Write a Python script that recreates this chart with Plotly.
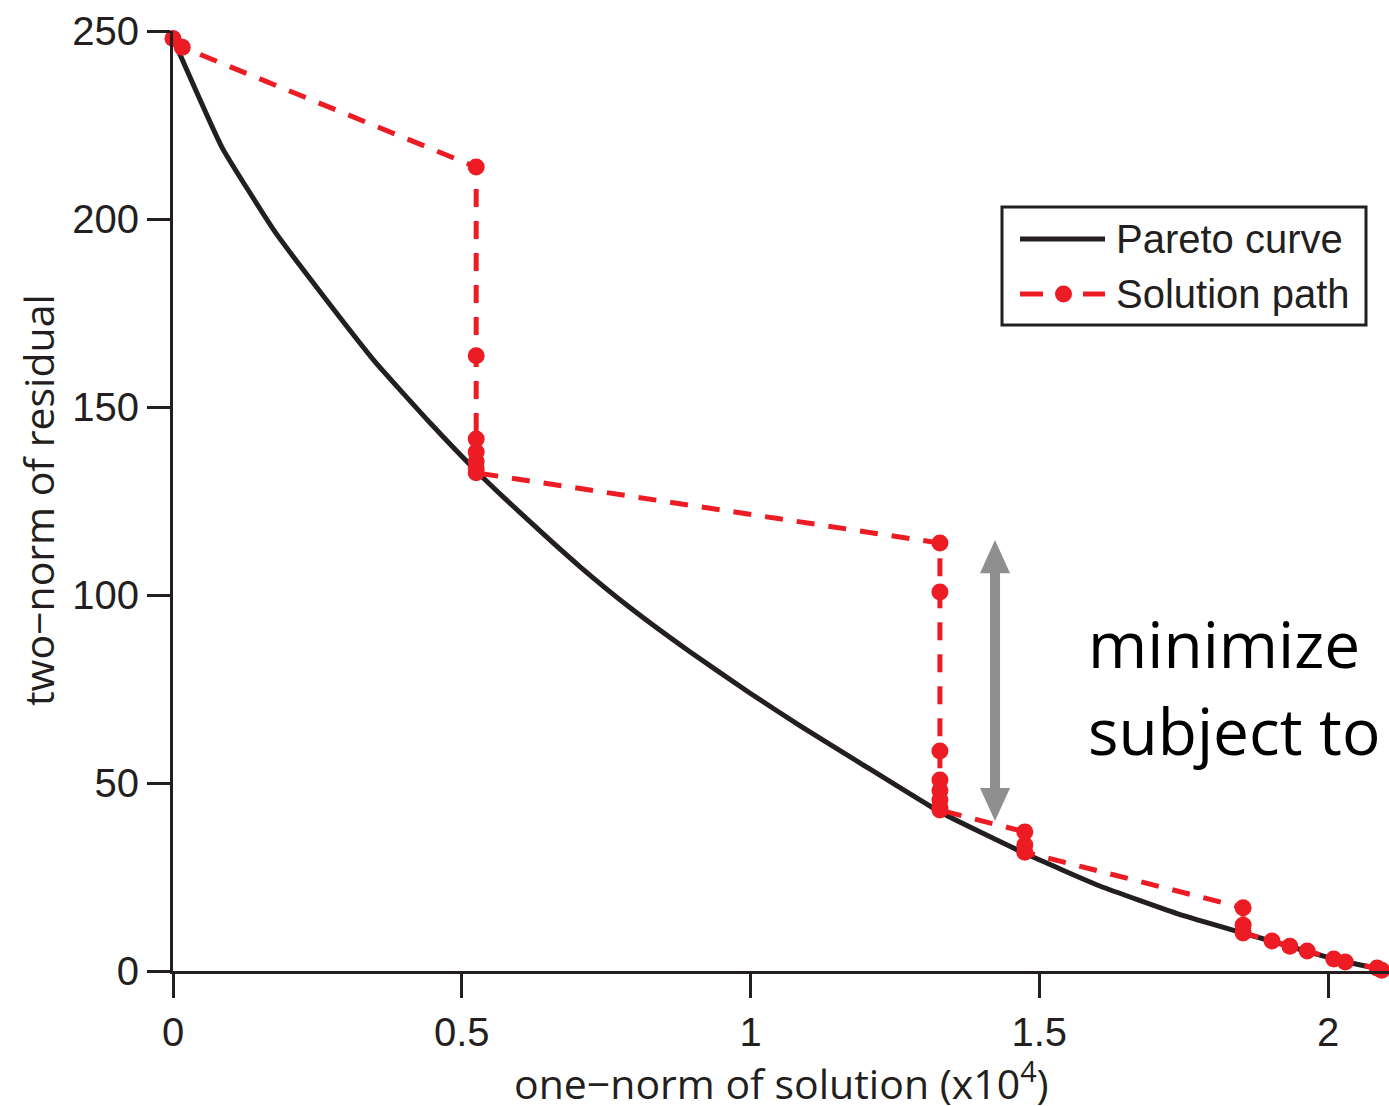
import plotly.graph_objects as go

# Pareto curve: one-norm of solution (x1e4) vs two-norm of residual
pareto_x = [0.0, 0.085, 0.177, 0.263, 0.35, 0.445, 0.525, 0.618, 0.705, 0.79, 0.895,
            1.0, 1.086, 1.19, 1.328, 1.475, 1.605, 1.744, 1.853, 2.0, 2.05, 2.1]
pareto_y = [248.0, 219.0, 196.5, 179.0, 162.0, 145.8, 133.0, 119.5, 107.5, 96.8, 84.9,
            73.8, 65.2, 55.3, 42.3, 31.3, 22.6, 15.0, 10.1, 3.6, 1.8, 0.2]

# Iterates of the solver (solution path)
path_x = [0.0, 0.016, 0.525, 0.525, 0.525, 0.525, 0.525, 0.525, 0.525,
          1.328, 1.328, 1.328, 1.328, 1.328, 1.328, 1.328, 1.328,
          1.475, 1.475, 1.475, 1.853, 1.853, 1.853,
          1.903, 1.934, 1.964, 2.01, 2.03, 2.085, 2.093]
path_y = [248.0, 245.7, 213.8, 163.6, 141.5, 138.0, 135.5, 133.5, 132.5,
          113.8, 100.8, 58.5, 50.8, 48.0, 45.5, 43.5, 42.8,
          37.0, 33.5, 31.6, 16.8, 12.2, 10.1,
          8.0, 6.6, 5.3, 3.2, 2.4, 0.8, 0.2]

x_ticks = [0, 0.5, 1, 1.5, 2]
x_tick_text = ["0", "0.5", "1", "1.5", "2"]
y_ticks = [0, 50, 100, 150, 200, 250]

INK = "#231f20"
RED = "#ed1c24"
GRAY = "#8f8f8f"
TICK_FONT = dict(family="Liberation Sans, Arial, sans-serif", size=40, color=INK)
TITLE_FONT = dict(family="Open Sans, Liberation Sans, sans-serif", size=41, color=INK)

W, H = 1389, 1106
ML, MR, MT, MB = 173, 0, 31, 135
PW, PH = W - ML - MR, H - MT - MB


def px(xp):
    return (xp - ML) / PW


def py(yp):
    return (H - MB - yp) / PH


fig = go.Figure()

fig.add_trace(go.Scatter(
    x=pareto_x, y=pareto_y, mode="lines",
    line=dict(color=INK, width=5, shape="spline", smoothing=0.4),
    showlegend=False, cliponaxis=False,
))
fig.add_trace(go.Scatter(
    x=path_x, y=path_y, mode="lines+markers",
    line=dict(color=RED, width=5, dash="18px,14px"),
    marker=dict(color=RED, size=17, line=dict(width=0)),
    showlegend=False, cliponaxis=False,
))

# Double-headed gray arrow marking the gap between path and curve
ax_c, ax_top, ax_bot = 1.4234, 114.6, 39.9
shaft_hw, head_hw, head_len = 0.0087, 0.026, 8.8
arrow_pts = [
    (ax_c, ax_top), (ax_c + head_hw, ax_top - head_len), (ax_c + shaft_hw, ax_top - head_len),
    (ax_c + shaft_hw, ax_bot + head_len), (ax_c + head_hw, ax_bot + head_len), (ax_c, ax_bot),
    (ax_c - head_hw, ax_bot + head_len), (ax_c - shaft_hw, ax_bot + head_len),
    (ax_c - shaft_hw, ax_top - head_len), (ax_c - head_hw, ax_top - head_len),
]
arrow_path = "M" + " L".join(f"{x},{y}" for x, y in arrow_pts) + " Z"
fig.add_shape(type="path", path=arrow_path, xref="x", yref="y",
              fillcolor=GRAY, line=dict(width=0))

# Hand-built legend box
fig.add_shape(type="rect", xref="paper", yref="paper",
              x0=px(1002), x1=px(1366), y0=py(325), y1=py(207),
              line=dict(color=INK, width=3), fillcolor="white")
fig.add_shape(type="line", xref="paper", yref="paper",
              x0=px(1020), x1=px(1105), y0=py(239), y1=py(239),
              line=dict(color=INK, width=5))
for x0, x1 in [(1020, 1043), (1083, 1105)]:
    fig.add_shape(type="line", xref="paper", yref="paper",
                  x0=px(x0), x1=px(x1), y0=py(294), y1=py(294),
                  line=dict(color=RED, width=5))
fig.add_shape(type="circle", xref="paper", yref="paper",
              x0=px(1055), x1=px(1072), y0=py(302.5), y1=py(285.5),
              fillcolor=RED, line=dict(width=0))
for label, yp in [("Pareto curve", 239), ("Solution path", 294)]:
    fig.add_annotation(text=label, xref="paper", yref="paper", x=px(1114), y=py(yp),
                       xanchor="left", yanchor="middle", showarrow=False, font=TICK_FONT)

# Problem statement text
for label, yp in [("minimize", 643), ("subject to", 730)]:
    fig.add_annotation(text=label, xref="paper", yref="paper", x=px(1086), y=py(yp),
                       xanchor="left", yanchor="middle", showarrow=False,
                       font=dict(family="Open Sans, DejaVu Sans, sans-serif", size=64, color="black"))

# Axis titles
fig.add_annotation(text="two−norm of residual", xref="paper", yref="paper",
                   x=px(38), y=py(500), textangle=-90, showarrow=False,
                   xanchor="center", yanchor="middle", font=TITLE_FONT)
fig.add_annotation(text="one−norm of solution (x10<sup>4</sup>)", xref="paper", yref="paper",
                   x=px(781), y=py(1081), showarrow=False,
                   xanchor="center", yanchor="middle", font=TITLE_FONT)

fig.update_xaxes(
    range=[0, PW / 577.5], tickvals=x_ticks, ticktext=x_tick_text,
    showline=True, linecolor=INK, linewidth=3, ticks="outside", ticklen=24,
    tickwidth=3, tickcolor=INK, showgrid=False, zeroline=False, tickfont=TICK_FONT,
)
fig.update_yaxes(
    range=[0, 250], tickvals=y_ticks,
    showline=True, linecolor=INK, linewidth=3, ticks="outside", ticklen=23,
    tickwidth=3, tickcolor=INK, showgrid=False, zeroline=False, tickfont=TICK_FONT,
)
fig.update_layout(
    width=W, height=H, margin=dict(l=ML, r=MR, t=MT, b=MB),
    plot_bgcolor="white", paper_bgcolor="white", showlegend=False,
)

fig.write_html("out.html")
